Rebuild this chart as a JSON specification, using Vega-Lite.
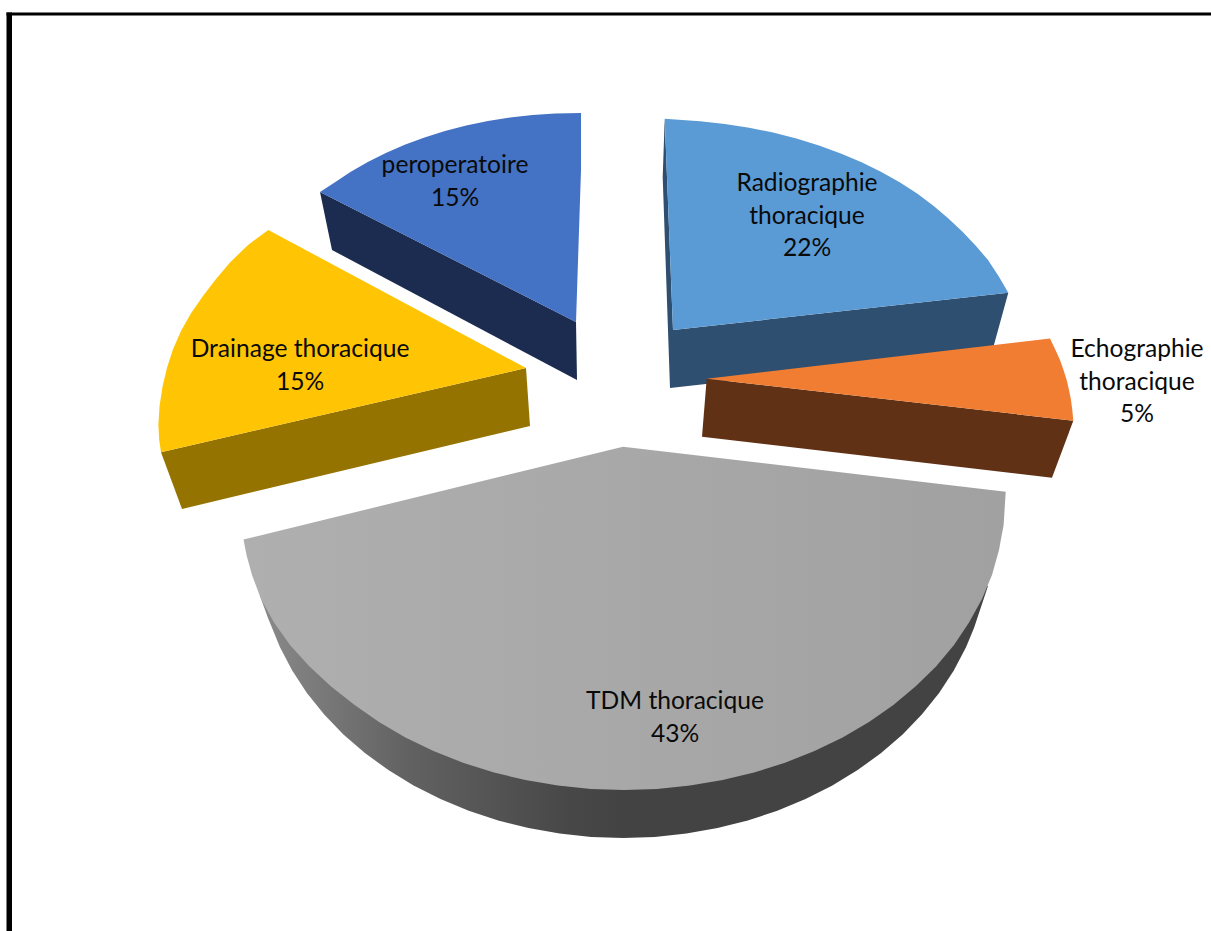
{
  "$schema": "https://vega.github.io/schema/vega-lite/v6.json",
  "width": 1211,
  "height": 931,
  "padding": 0,
  "autosize": {"type": "none"},
  "background": "white",
  "config": {"view": {"stroke": null}},
  "datasets": {
    "faces": [
      {"face": "Radiographie side", "seq": 1, "x": 673, "y": 330},
      {"face": "Radiographie side", "seq": 2, "x": 1008.3, "y": 292.7},
      {"face": "Radiographie side", "seq": 3, "x": 992, "y": 352},
      {"face": "Radiographie side", "seq": 4, "x": 670, "y": 388},
      {"face": "Radiographie side", "seq": 5, "x": 662.7, "y": 177},
      {"face": "Radiographie side", "seq": 6, "x": 664.7, "y": 118.7},

      {"face": "Radiographie top", "seq": 1, "x": 664.7, "y": 118.7},
      {"face": "Radiographie top", "seq": 2, "x": 675.1, "y": 119.5},
      {"face": "Radiographie top", "seq": 3, "x": 700.1, "y": 121.2},
      {"face": "Radiographie top", "seq": 4, "x": 724.8, "y": 124},
      {"face": "Radiographie top", "seq": 5, "x": 749.2, "y": 127.7},
      {"face": "Radiographie top", "seq": 6, "x": 773.1, "y": 132.6},
      {"face": "Radiographie top", "seq": 7, "x": 796.4, "y": 138.5},
      {"face": "Radiographie top", "seq": 8, "x": 819, "y": 145.5},
      {"face": "Radiographie top", "seq": 9, "x": 840.8, "y": 153.4},
      {"face": "Radiographie top", "seq": 10, "x": 861.6, "y": 162.2},
      {"face": "Radiographie top", "seq": 11, "x": 881.4, "y": 171.9},
      {"face": "Radiographie top", "seq": 12, "x": 900.1, "y": 182.4},
      {"face": "Radiographie top", "seq": 13, "x": 917.5, "y": 193.8},
      {"face": "Radiographie top", "seq": 14, "x": 933.7, "y": 205.9},
      {"face": "Radiographie top", "seq": 15, "x": 948.4, "y": 218.6},
      {"face": "Radiographie top", "seq": 16, "x": 962.8, "y": 232},
      {"face": "Radiographie top", "seq": 17, "x": 976, "y": 246},
      {"face": "Radiographie top", "seq": 18, "x": 988, "y": 260},
      {"face": "Radiographie top", "seq": 19, "x": 998.5, "y": 276},
      {"face": "Radiographie top", "seq": 20, "x": 1008.3, "y": 292.7},
      {"face": "Radiographie top", "seq": 21, "x": 673, "y": 330},

      {"face": "Echographie side", "seq": 1, "x": 706.7, "y": 378.7},
      {"face": "Echographie side", "seq": 2, "x": 1073.3, "y": 420.7},
      {"face": "Echographie side", "seq": 3, "x": 1052, "y": 477.7},
      {"face": "Echographie side", "seq": 4, "x": 702, "y": 436.7},

      {"face": "Echographie top", "seq": 1, "x": 706.7, "y": 378.7},
      {"face": "Echographie top", "seq": 2, "x": 1050, "y": 338.5},
      {"face": "Echographie top", "seq": 3, "x": 1055.5, "y": 350},
      {"face": "Echographie top", "seq": 4, "x": 1060, "y": 360},
      {"face": "Echographie top", "seq": 5, "x": 1063.5, "y": 370},
      {"face": "Echographie top", "seq": 6, "x": 1066.7, "y": 380},
      {"face": "Echographie top", "seq": 7, "x": 1069, "y": 390},
      {"face": "Echographie top", "seq": 8, "x": 1071, "y": 400},
      {"face": "Echographie top", "seq": 9, "x": 1072.3, "y": 410},
      {"face": "Echographie top", "seq": 10, "x": 1073.3, "y": 420.7},

      {"face": "Peroperatoire side", "seq": 1, "x": 320, "y": 192},
      {"face": "Peroperatoire side", "seq": 2, "x": 332, "y": 250},
      {"face": "Peroperatoire side", "seq": 3, "x": 577, "y": 380},
      {"face": "Peroperatoire side", "seq": 4, "x": 576, "y": 322},

      {"face": "Peroperatoire top", "seq": 1, "x": 320, "y": 192},
      {"face": "Peroperatoire top", "seq": 2, "x": 335, "y": 182.2},
      {"face": "Peroperatoire top", "seq": 3, "x": 350.8, "y": 171.7},
      {"face": "Peroperatoire top", "seq": 4, "x": 367.8, "y": 161.9},
      {"face": "Peroperatoire top", "seq": 5, "x": 385.8, "y": 152.9},
      {"face": "Peroperatoire top", "seq": 6, "x": 404.7, "y": 144.8},
      {"face": "Peroperatoire top", "seq": 7, "x": 424.5, "y": 137.5},
      {"face": "Peroperatoire top", "seq": 8, "x": 445, "y": 131.1},
      {"face": "Peroperatoire top", "seq": 9, "x": 466.2, "y": 125.6},
      {"face": "Peroperatoire top", "seq": 10, "x": 487.9, "y": 121.1},
      {"face": "Peroperatoire top", "seq": 11, "x": 510, "y": 117.6},
      {"face": "Peroperatoire top", "seq": 12, "x": 532.5, "y": 115},
      {"face": "Peroperatoire top", "seq": 13, "x": 555.2, "y": 113.5},
      {"face": "Peroperatoire top", "seq": 14, "x": 581, "y": 113},
      {"face": "Peroperatoire top", "seq": 15, "x": 581, "y": 170},
      {"face": "Peroperatoire top", "seq": 16, "x": 576, "y": 322},

      {"face": "Drainage side", "seq": 1, "x": 161, "y": 452.3},
      {"face": "Drainage side", "seq": 2, "x": 182, "y": 509},
      {"face": "Drainage side", "seq": 3, "x": 530, "y": 426},
      {"face": "Drainage side", "seq": 4, "x": 526, "y": 368},

      {"face": "Drainage top", "seq": 1, "x": 161, "y": 452.3},
      {"face": "Drainage top", "seq": 2, "x": 159.2, "y": 440},
      {"face": "Drainage top", "seq": 3, "x": 158.4, "y": 425},
      {"face": "Drainage top", "seq": 4, "x": 159.6, "y": 405.8},
      {"face": "Drainage top", "seq": 5, "x": 162.5, "y": 386.7},
      {"face": "Drainage top", "seq": 6, "x": 167, "y": 367.8},
      {"face": "Drainage top", "seq": 7, "x": 173, "y": 349.2},
      {"face": "Drainage top", "seq": 8, "x": 181, "y": 331},
      {"face": "Drainage top", "seq": 9, "x": 191, "y": 313.2},
      {"face": "Drainage top", "seq": 10, "x": 203, "y": 295.9},
      {"face": "Drainage top", "seq": 11, "x": 216, "y": 279},
      {"face": "Drainage top", "seq": 12, "x": 230, "y": 262.5},
      {"face": "Drainage top", "seq": 13, "x": 248, "y": 245},
      {"face": "Drainage top", "seq": 14, "x": 268.3, "y": 230},
      {"face": "Drainage top", "seq": 15, "x": 526, "y": 368}
    ],
    "tdmSide": [
      {"seq": 1, "x": 988, "y": 586},
      {"seq": 2, "x": 980, "y": 610},
      {"seq": 3, "x": 974, "y": 628},
      {"seq": 4, "x": 966, "y": 647.2},
      {"seq": 5, "x": 953.8, "y": 670.6},
      {"seq": 6, "x": 939.1, "y": 693},
      {"seq": 7, "x": 922, "y": 714.3},
      {"seq": 8, "x": 902.6, "y": 734.4},
      {"seq": 9, "x": 881.1, "y": 753.1},
      {"seq": 10, "x": 857.6, "y": 770.1},
      {"seq": 11, "x": 832.4, "y": 785.6},
      {"seq": 12, "x": 805.5, "y": 799.1},
      {"seq": 13, "x": 777.3, "y": 810.8},
      {"seq": 14, "x": 747.8, "y": 820.5},
      {"seq": 15, "x": 717.5, "y": 828.1},
      {"seq": 16, "x": 686.4, "y": 833.6},
      {"seq": 17, "x": 654.8, "y": 836.9},
      {"seq": 18, "x": 623, "y": 838},
      {"seq": 19, "x": 591.2, "y": 836.9},
      {"seq": 20, "x": 559.6, "y": 833.6},
      {"seq": 21, "x": 528.5, "y": 828.1},
      {"seq": 22, "x": 498.2, "y": 820.5},
      {"seq": 23, "x": 468.7, "y": 810.8},
      {"seq": 24, "x": 440.5, "y": 799.1},
      {"seq": 25, "x": 413.6, "y": 785.6},
      {"seq": 26, "x": 388.4, "y": 770.1},
      {"seq": 27, "x": 364.9, "y": 753.1},
      {"seq": 28, "x": 343.4, "y": 734.4},
      {"seq": 29, "x": 324, "y": 714.3},
      {"seq": 30, "x": 306.9, "y": 693},
      {"seq": 31, "x": 292.2, "y": 670.6},
      {"seq": 32, "x": 280, "y": 647.2},
      {"seq": 33, "x": 268, "y": 618},
      {"seq": 34, "x": 260, "y": 596}
    ],
    "tdmTop": [
      {"seq": 1, "x": 623, "y": 446.7},
      {"seq": 2, "x": 1005.7, "y": 491.7},
      {"seq": 3, "x": 1003.6, "y": 525},
      {"seq": 4, "x": 999, "y": 550},
      {"seq": 5, "x": 992, "y": 575},
      {"seq": 6, "x": 982, "y": 599},
      {"seq": 7, "x": 969, "y": 622.6},
      {"seq": 8, "x": 954, "y": 645},
      {"seq": 9, "x": 936, "y": 666.4},
      {"seq": 10, "x": 916, "y": 686},
      {"seq": 11, "x": 893.4, "y": 705},
      {"seq": 12, "x": 869, "y": 722},
      {"seq": 13, "x": 842.6, "y": 737.5},
      {"seq": 14, "x": 814.5, "y": 751},
      {"seq": 15, "x": 785, "y": 762.8},
      {"seq": 16, "x": 754, "y": 772.6},
      {"seq": 17, "x": 722.6, "y": 780},
      {"seq": 18, "x": 690, "y": 785.6},
      {"seq": 19, "x": 657, "y": 789},
      {"seq": 20, "x": 624, "y": 790},
      {"seq": 21, "x": 591, "y": 789},
      {"seq": 22, "x": 558, "y": 785.6},
      {"seq": 23, "x": 525.4, "y": 780},
      {"seq": 24, "x": 494, "y": 772.6},
      {"seq": 25, "x": 463, "y": 762.8},
      {"seq": 26, "x": 433.5, "y": 751},
      {"seq": 27, "x": 405.4, "y": 737.5},
      {"seq": 28, "x": 379, "y": 722},
      {"seq": 29, "x": 354.6, "y": 705},
      {"seq": 30, "x": 330.5, "y": 686},
      {"seq": 31, "x": 309, "y": 666},
      {"seq": 32, "x": 290, "y": 645},
      {"seq": 33, "x": 274, "y": 622.6},
      {"seq": 34, "x": 261, "y": 599},
      {"seq": 35, "x": 252, "y": 575},
      {"seq": 36, "x": 246.5, "y": 555},
      {"seq": 37, "x": 243.5, "y": 539.5}
    ],
    "labels": [
      {"name": "Radiographie thoracique", "share": 22, "text": "Radiographie\nthoracique\n22%", "x": 807, "y": 184},
      {"name": "Echographie thoracique", "share": 5, "text": "Echographie\nthoracique\n5%", "x": 1137, "y": 350},
      {"name": "TDM thoracique", "share": 43, "text": "TDM thoracique\n43%", "x": 675, "y": 702},
      {"name": "Drainage thoracique", "share": 15, "text": "Drainage thoracique\n15%", "x": 300, "y": 350},
      {"name": "peroperatoire", "share": 15, "text": "peroperatoire\n15%", "x": 455, "y": 166}
    ],
    "frame": [
      {"x": 9.25, "y": 12.5, "x2": 9.25, "y2": 931, "w": "left"},
      {"x": 6.5, "y": 14, "x2": 1211, "y2": 14, "w": "top"}
    ]
  },
  "encoding": {
    "x": {"field": "x", "type": "quantitative", "scale": {"domain": [0, 1211], "nice": false, "zero": false}, "axis": null},
    "y": {"field": "y", "type": "quantitative", "scale": {"domain": [931, 0], "nice": false, "zero": false}, "axis": null}
  },
  "layer": [
    {
      "data": {"name": "faces"},
      "mark": {"type": "line", "filled": true, "strokeWidth": 0},
      "encoding": {
        "color": {
          "field": "face",
          "type": "nominal",
          "legend": null,
          "scale": {
            "domain": ["Radiographie side", "Radiographie top", "Echographie side", "Echographie top", "Peroperatoire side", "Peroperatoire top", "Drainage side", "Drainage top"],
            "range": ["#2E4F6F", "#5B9BD5", "#603114", "#F07D31", "#1B2C50", "#4472C4", "#957300", "#FFC404"]
          }
        },
        "order": {"field": "seq", "type": "quantitative"}
      }
    },
    {
      "data": {"name": "tdmSide"},
      "mark": {
        "type": "line",
        "filled": true,
        "strokeWidth": 0,
        "fill": {
          "gradient": "linear", "x1": 0, "y1": 0, "x2": 1, "y2": 0,
          "stops": [
            {"offset": 0, "color": "#8A8A8A"},
            {"offset": 0.2, "color": "#626262"},
            {"offset": 0.42, "color": "#484848"},
            {"offset": 0.5, "color": "#434343"},
            {"offset": 1, "color": "#434343"}
          ]
        }
      },
      "encoding": {"order": {"field": "seq", "type": "quantitative"}}
    },
    {
      "data": {"name": "tdmTop"},
      "mark": {
        "type": "line",
        "filled": true,
        "strokeWidth": 0,
        "fill": {
          "gradient": "linear", "x1": 0, "y1": 0, "x2": 1, "y2": 0,
          "stops": [
            {"offset": 0, "color": "#AFAFAF"},
            {"offset": 1, "color": "#A1A1A1"}
          ]
        }
      },
      "encoding": {"order": {"field": "seq", "type": "quantitative"}}
    },
    {
      "data": {"name": "labels"},
      "mark": {"type": "text", "font": "Lato", "fontSize": 24.6, "lineHeight": 32.7, "lineBreak": "\n", "align": "center", "baseline": "middle", "color": "#0A0A0A"},
      "encoding": {"text": {"field": "text"}}
    },
    {
      "data": {"name": "frame"},
      "transform": [{"filter": "datum.w === 'left'"}],
      "mark": {"type": "rule", "color": "black", "strokeWidth": 5.5},
      "encoding": {
        "x2": {"field": "x2"},
        "y2": {"field": "y2"}
      }
    },
    {
      "data": {"name": "frame"},
      "transform": [{"filter": "datum.w === 'top'"}],
      "mark": {"type": "rule", "color": "black", "strokeWidth": 3},
      "encoding": {
        "x2": {"field": "x2"},
        "y2": {"field": "y2"}
      }
    }
  ]
}
